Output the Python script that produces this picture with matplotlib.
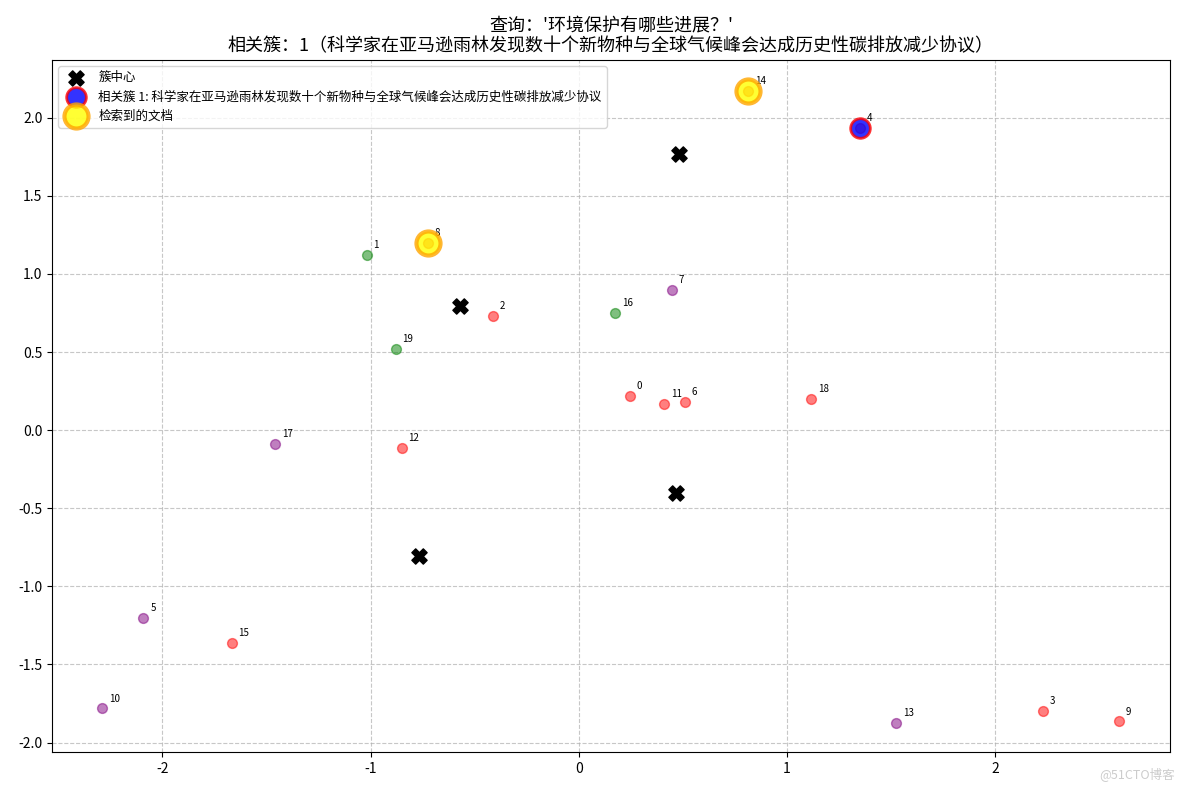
import matplotlib
matplotlib.use("Agg")
import matplotlib.pyplot as plt

plt.rcParams['font.family'] = ['Noto Sans CJK SC', 'DejaVu Sans']
plt.rcParams['axes.unicode_minus'] = False

doc_ids = list(range(20))
xs = [0.245, -1.019, -0.413, 2.231, 1.351, -2.091, 0.51, 0.447, -0.726, 2.596,
      -2.288, 0.409, -0.851, 1.524, 0.8125, -1.668, 0.173, -1.457, 1.115, -0.88]
ys = [0.218, 1.122, 0.731, -1.795, 1.936, -1.205, 0.18, 0.897, 1.199, -1.865,
      -1.782, 0.167, -0.115, -1.872, 2.173, -1.365, 0.75, -0.09, 0.199, 0.519]
clusters = [1, 0, 1, 1, 1, 2, 1, 2, 1, 1, 2, 1, 1, 2, 1, 1, 0, 2, 1, 0]
center_x = [-0.572, 0.481, 0.466, -0.769]
center_y = [0.795, 1.769, -0.404, -0.808]
relevant_docs = [4]
retrieved_docs = [8, 14]
cluster_colors = {0: 'green', 1: 'red', 2: 'purple'}

fig, ax = plt.subplots(figsize=(11.84, 7.89), dpi=100)
for i in doc_ids:
    ax.scatter(xs[i], ys[i], c=cluster_colors[clusters[i]], alpha=0.5, s=50, zorder=2)
    ax.annotate(str(i), (xs[i], ys[i]), xytext=(5, 5), textcoords='offset points', fontsize=7)
ax.scatter(center_x, center_y, c='black', marker='X', s=120, label='簇中心', zorder=3)
ax.scatter([xs[i] for i in relevant_docs], [ys[i] for i in relevant_docs], c='blue',
           edgecolors='red', s=200, linewidths=2, alpha=0.8,
           label='相关簇 1: 科学家在亚马逊雨林发现数十个新物种与全球气候峰会达成历史性碳排放减少协议', zorder=4)
ax.scatter([xs[i] for i in retrieved_docs], [ys[i] for i in retrieved_docs], c='yellow',
           edgecolors='orange', s=300, linewidths=3, alpha=0.8, label='检索到的文档', zorder=4)
ax.set_xlim(-2.53, 2.84)
ax.set_ylim(-2.06, 2.37)
ax.grid(True, linestyle='--', alpha=0.7)
ax.legend(loc='upper left', fontsize=9)
ax.set_title("查询：'环境保护有哪些进展？'\n相关簇：1（科学家在亚马逊雨林发现数十个新物种与全球气候峰会达成历史性碳排放减少协议）",
             fontsize=13)
fig.subplots_adjust(left=0.044, right=0.988, top=0.924, bottom=0.047)
fig.text(0.992, 0.01, '@51CTO博客', ha='right', va='bottom', fontsize=9, color='#cccccc')
fig.savefig('out.png', dpi=100)
